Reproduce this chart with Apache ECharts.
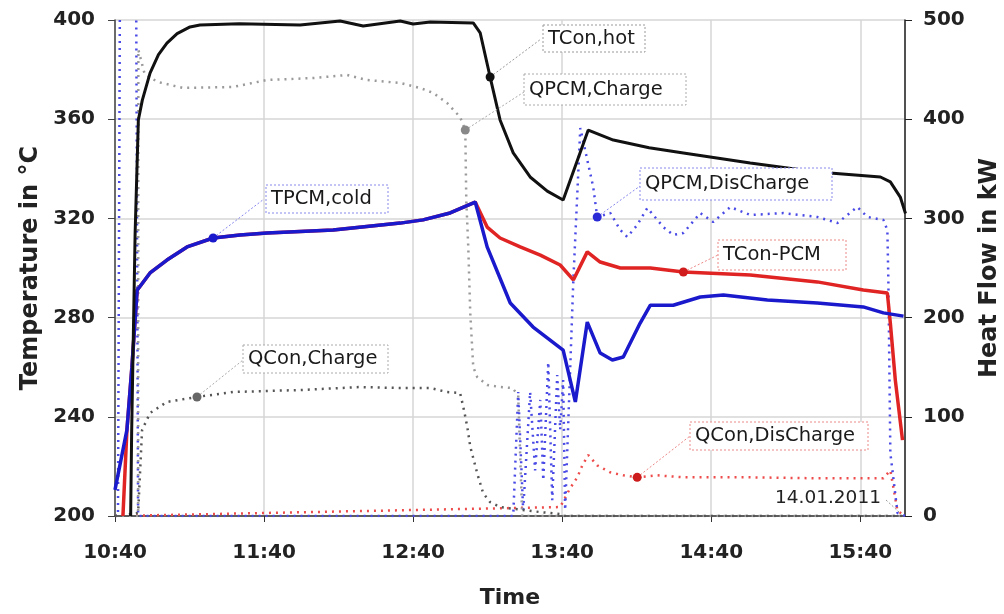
<!DOCTYPE html>
<html><head><meta charset="utf-8">
<script src="https://cdn.jsdelivr.net/npm/echarts@6/dist/echarts.min.js"></script>
<style>html,body{margin:0;padding:0;background:#fff;overflow:hidden}#c{width:1004px;height:614px}</style>
</head><body><div id="c"></div>
<script>
// time axis: minutes after 10:40
const xTickLabels = ['10:40','11:40','12:40','13:40','14:40','15:40'];

// TCon,hot (°C)
const tconHotT = [6.3, 6.7, 7.4, 8.1, 9.4, 11, 14.1, 17.5, 20.9, 25, 30.2, 34.2, 50, 74.5, 90.6, 99.9, 114.8, 120, 126.9, 144.2, 147, 151, 155, 160.3, 167.1, 174, 180.4, 190.5, 200.6, 215, 228.8, 255.7, 282.7, 308.1, 312.1, 316.1, 318.2];
const tconHotV = [200, 233.5, 273.8, 314, 359.7, 367.7, 378.6, 386, 390.7, 394.5, 397.2, 398, 398.5, 398, 399.6, 397.6, 399.6, 398.4, 399.2, 398.8, 394.8, 377, 359.7, 346.4, 336.7, 331, 327.4, 355.6, 351.6, 348.5, 346.4, 342.3, 338.7, 336.7, 334.7, 328.6, 322];

// TPCM,cold (°C)
const tpcmColdT = [0, 4.8, 6.8, 8.9, 14.1, 20.9, 29, 39.5, 50.3, 61.2, 87.8, 114.8, 124, 134.9, 145, 149.8, 159.1, 168.3, 180.4, 185.3, 190.1, 195.3, 200.2, 204.6, 211.4, 215.5, 224.7, 235.6, 244.9, 262.6, 282.7, 301.2, 309.3, 317.4];
const tpcmColdV = [210.5, 234.7, 260, 291, 298, 303.2, 308.5, 312.1, 313.3, 314.1, 315.3, 318.1, 319.4, 322.2, 326.6, 308.5, 285.9, 276.2, 266.9, 246, 278.2, 265.7, 262.9, 264.1, 277.8, 285, 285, 288.3, 289.1, 287.1, 285.9, 284.3, 281.9, 280.6];

// TCon-PCM (°C)
const tconPcmT = [3.2, 4.8, 6.8, 8.9, 14.1, 20.9, 29, 39.5, 50.3, 61.2, 87.8, 114.8, 124, 134.9, 145, 149.8, 155, 163.1, 171.2, 179.2, 184.5, 190.1, 195.3, 203.4, 215.5, 228.8, 255.7, 282.7, 301.2, 310.9, 312.1, 314.1, 317];
const tconPcmV = [200, 234.7, 260, 291, 298, 303.2, 308.5, 312.1, 313.3, 314.1, 315.3, 318.1, 319.4, 322.2, 326.6, 316.5, 312.1, 308.5, 305.2, 301.2, 295.2, 306.5, 302.4, 300, 300, 298.4, 297.2, 294.4, 291.1, 289.9, 277.8, 254.8, 230.6];

// QPCM,Charge (kW)
const qpcmChargeT = [0, 9.3, 9.4, 12, 17.3, 27.4, 47.5, 61.2, 79.7, 93.4, 101.5, 114.8, 122.8, 128.1, 133.7, 138.9, 141, 141.4, 142.2, 143, 144.2, 145.8, 149.8, 155, 159.9, 162.3, 163.9, 318.2];
const qpcmChargeV = [0, 0, 470, 445, 437.5, 431.5, 432.5, 439.5, 441.5, 444.6, 439.5, 436.5, 431.5, 426.4, 416.3, 402.2, 389.1, 318.5, 271.2, 204.6, 150.2, 140.1, 132.1, 130, 129, 122, 0, 0];

// QPCM,DisCharge (kW)
const qpcmDisT = [0, 1.2, 2.0, 8.5, 9.3, 160.3, 162.3, 164.3, 167.1, 169.1, 171.2, 172.4, 174.4, 176, 178, 179.2, 180.4, 181.2, 184.5, 187.3, 192.5, 194.1, 199.4, 203.4, 206.2, 210.2, 214.3, 220.7, 224.7, 228.8, 235.6, 240.8, 247.7, 255.7, 269, 282.7, 290.8, 298.8, 302.9, 309.3, 310.9, 311.3, 312.1, 315, 318.2];
const qpcmDisV = [0, 0, 540, 540, 0, 0, 125, 6, 125, 46, 117, 36, 155, 16, 142, 87, 137, 6, 237.9, 391, 331.7, 301.4, 305.4, 288.3, 281.3, 293.3, 310.5, 291.3, 283.3, 285.3, 305.4, 296.4, 311.5, 303.4, 305.4, 301.4, 295.4, 311.5, 301.4, 298.4, 288.3, 237.9, 63.5, 3, 0];

// QCon,Charge (kW)
const qconChargeT = [0, 9.3, 10.9, 14.1, 20.9, 33, 47.5, 74.5, 98.7, 114.8, 126.9, 133.7, 138.9, 140.2, 141.8, 143, 145.8, 148.2, 151, 155, 171, 179, 181, 318.2];
const qconChargeV = [0, 3, 86.7, 103.8, 115, 120, 125, 127, 130, 129, 129, 125, 124, 110, 90, 70, 43, 23, 14, 9, 4, 2, 0, 0];

// QCon,DisCharge (kW)
const qconDisT = [0, 179.2, 183.2, 186.1, 188.1, 190.5, 194.1, 199.4, 204.6, 210.2, 218.3, 228.8, 255.7, 282.7, 309.3, 312.1, 315, 318.2];
const qconDisV = [0, 9, 28, 39, 51, 61.5, 51, 44, 41, 39, 41, 39, 39, 38, 38, 46, 5, 0];

const FONT = 'DejaVu Sans';
const pairs = (t, v) => t.map((x, i) => [x, v[i]]);

const chart = echarts.init(document.getElementById('c'), null, {renderer: 'canvas'});

function dotted(name, t, v, color, yi) {
  return {name, type: 'line', yAxisIndex: yi, data: pairs(t, v), symbol: 'none', showSymbol: false,
    lineStyle: {color, width: 2.5, type: [2, 5], cap: 'butt'}, clip: true, animation: false};
}
function solid(name, t, v, color, w) {
  return {name, type: 'line', yAxisIndex: 0, data: pairs(t, v), symbol: 'none', showSymbol: false,
    lineStyle: {color, width: w}, clip: true, animation: false};
}

const series = [
  dotted('QCon,DisCharge', qconDisT, qconDisV, '#ee4b4b', 1),
  dotted('QPCM,DisCharge', qpcmDisT, qpcmDisV, '#4a4ae6', 1),
  dotted('QPCM,Charge', qpcmChargeT, qpcmChargeV, '#9a9a9a', 1),
  dotted('QCon,Charge', qconChargeT, qconChargeV, '#555555', 1),
  solid('TCon-PCM', tconPcmT, tconPcmV, '#e02424', 3.5),
  solid('TPCM,cold', tpcmColdT, tpcmColdV, '#1a1acc', 3.5),
  solid('TCon,hot', tconHotT, tconHotV, '#111111', 3)
];

const option = {
  animation: false,
  backgroundColor: '#fff',
  grid: {left: 115, right: 99, top: 20, bottom: 98, containLabel: false, outerBoundsMode: 'none'},
  xAxis: {
    type: 'value', min: 0, max: 318, interval: 60,
    axisLine: {show: true, lineStyle: {color: '#333', width: 1.5}},
    axisTick: {show: true, length: 6, lineStyle: {color: '#333'}},
    axisLabel: {formatter: v => (v % 60 === 0 && xTickLabels[v / 60]) ? xTickLabels[v / 60] : '',
      fontFamily: FONT, fontWeight: 'bold', fontSize: 20, color: '#222', margin: 27, showMaxLabel: false},
    splitLine: {show: true, lineStyle: {color: '#d6d6d6', width: 1.5}},
    name: 'Time', nameLocation: 'middle', nameGap: 71,
    nameTextStyle: {fontFamily: FONT, fontWeight: 'bold', fontSize: 22, color: '#222'}
  },
  yAxis: [
    {type: 'value', min: 200, max: 400, interval: 40, position: 'left',
      axisLine: {show: true, lineStyle: {color: '#444', width: 1.5}},
      axisTick: {show: true, length: 7, lineStyle: {color: '#444'}},
      axisLabel: {fontFamily: FONT, fontWeight: 'bold', fontSize: 20, color: '#222', margin: 20},
      splitLine: {show: true, lineStyle: {color: '#d6d6d6', width: 1.5}},
      name: 'Temperature in °C', nameLocation: 'middle', nameRotate: 90, nameGap: 72,
      nameTextStyle: {fontFamily: FONT, fontWeight: 'bold', fontSize: 24, color: '#222'}},
    {type: 'value', min: 0, max: 500, interval: 100, position: 'right',
      axisLine: {show: true, lineStyle: {color: '#222', width: 1.5}},
      axisTick: {show: true, length: 7, lineStyle: {color: '#222'}},
      axisLabel: {fontFamily: FONT, fontWeight: 'bold', fontSize: 20, color: '#222', margin: 18},
      splitLine: {show: false},
      name: 'Heat Flow in kW', nameLocation: 'middle', nameRotate: 90, nameGap: 73,
      nameTextStyle: {fontFamily: FONT, fontWeight: 'bold', fontSize: 24, color: '#222'}}
  ],
  series
};
chart.setOption(option);

// annotation boxes (pixel layout), anchored on data points
const notes = [
  {s: 6, t: 151, text: 'TCon,hot', lc: '#999', dot: '#111', box: [543, 25, 102, 27], end: [541, 39]},
  {s: 2, t: 141, text: 'QPCM,Charge', lc: '#aaa', dot: '#888', box: [524, 74, 162, 31], end: [524, 92]},
  {s: 5, t: 39.5, text: 'TPCM,cold', lc: '#8888ee', dot: '#1a1acc', box: [266, 185, 122, 28], end: [264, 199]},
  {s: 3, t: 33, text: 'QCon,Charge', lc: '#aaa', dot: '#666', box: [243, 345, 145, 28], end: [243, 360]},
  {s: 1, t: 194.1, text: 'QPCM,DisCharge', lc: '#8888ee', dot: '#2a2ad6', box: [640, 168, 192, 32], end: [640, 186]},
  {s: 4, t: 228.8, text: 'TCon-PCM', lc: '#ee8888', dot: '#d01c1c', box: [718, 240, 128, 30], end: [718, 255]},
  {s: 0, t: 210.2, text: 'QCon,DisCharge', lc: '#ee8888', dot: '#cc1c1c', box: [690, 422, 178, 28], end: [690, 436]}
];
const g = [];
notes.forEach(n => {
  const d = series[n.s].data.find(p => p[0] === n.t);
  const p = chart.convertToPixel({seriesIndex: n.s}, d);
  g.push({type: 'line', z: 100, shape: {x1: p[0], y1: p[1], x2: n.end[0], y2: n.end[1]},
    style: {stroke: n.lc, lineWidth: 1, lineDash: [2, 2]}});
  g.push({type: 'rect', z: 100, shape: {x: n.box[0], y: n.box[1], width: n.box[2], height: n.box[3]},
    style: {fill: '#fff', stroke: n.lc, lineWidth: 1, lineDash: [2, 2]}});
  g.push({type: 'text', z: 101, style: {text: n.text, x: n.box[0] + 5, y: n.box[1] + n.box[3] / 2,
    font: '19.5px "DejaVu Sans"', fill: '#1a1a1a', verticalAlign: 'middle', align: 'left'}});
  g.push({type: 'circle', z: 102, shape: {cx: p[0], cy: p[1], r: 4.5}, style: {fill: n.dot}});
});
g.push({type: 'text', z: 101, style: {text: '14.01.2011', x: 775, y: 498,
  font: '18.5px "DejaVu Sans"', fill: '#222', verticalAlign: 'middle', align: 'left'}});
g.push({type: 'line', z: 100, shape: {x1: 886, y1: 500, x2: 899, y2: 512},
  style: {stroke: '#999', lineWidth: 1, lineDash: [2, 2]}});
chart.setOption({graphic: g});
</script>
</body></html>
